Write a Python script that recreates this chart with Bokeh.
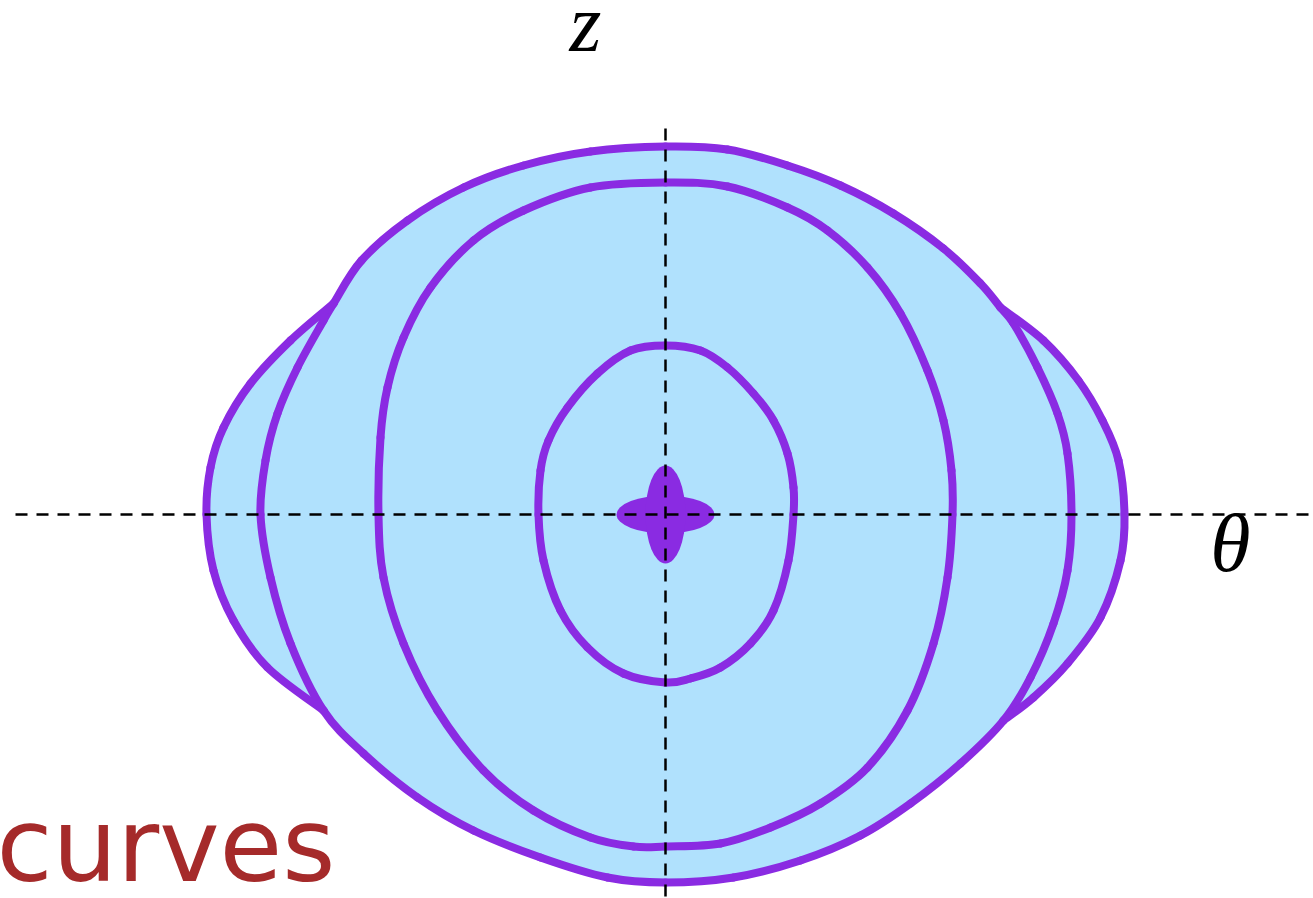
from bokeh.plotting import figure
from bokeh.models import Range1d
from bokeh.core.properties import value
from bokeh.embed import file_html
from bokeh.resources import INLINE

# Curve outlines, as (theta, z) offsets from the origin where the axes cross.
# Tall closed curve (the outermost level); runs clockwise from the top.
tall_theta = [0, 62, 122, 175, 228, 278, 315, 335, 348, 372, 392, 402, 406,
              402, 388, 365, 338, 295, 245, 195, 135, 68, 0, -58, -125, -192,
              -248, -302, -342, -375, -395, -405, -400, -388, -368, -342, -332,
              -304, -258, -202, -142, -75, 0]
tall_z = [368, 365, 349, 329, 301, 266, 231, 207, 191, 147, 101, 61, 0, -56,
          -109, -163, -206, -249, -289, -321, -346, -363, -368, -363, -343,
          -316, -283, -239, -196, -129, -63, 0, 54, 101, 147, 194, 211, 254,
          294, 327, 349, 363, 368]

# Side lobes that bulge out beyond the tall curve (both run top to bottom).
lobe_r_theta = [335, 378, 413, 437, 453, 459, 455, 435, 402, 368, 338]
lobe_r_z = [207, 174, 134, 94, 54, 0, -46, -103, -149, -183, -206]
lobe_l_theta = [-332, -375, -415, -442, -455, -459, -452, -432, -398, -342]
lobe_l_z = [211, 174, 131, 87, 47, 0, -56, -106, -153, -196]

# Second level.
mid_theta = [0, 62, 122, 162, 202, 235, 262, 278, 286, 287, 282, 268, 242,
             202, 155, 105, 55, 0, -32, -75, -132, -182, -228, -262, -282,
             -287, -285, -278, -262, -235, -192, -142, -75, 0]
mid_z = [332, 328, 307, 284, 247, 201, 144, 94, 44, 0, -63, -129, -196,
         -253, -289, -313, -329, -332, -332, -323, -296, -256, -196, -129,
         -63, 0, 77, 127, 177, 227, 274, 304, 327, 332]

# Third level.
inner_theta = [0, 35, 62, 88, 108, 122, 128, 128, 123, 108, 85, 55, 25, 0,
               -42, -78, -105, -122, -127, -125, -117, -98, -68, -35, 0]
inner_z = [169, 164, 147, 121, 94, 61, 27, 0, -46, -96, -129, -153, -164,
           -168, -159, -133, -96, -46, 0, 44, 74, 107, 141, 164, 169]

# Innermost level: two crossed ovals at the origin.
core_theta = [0, 0]
core_z = [0, 0]
core_w = [98, 40]
core_h = [38, 98]

# Axis guides.
h_axis_theta = [-650, 648]
h_axis_z = [0, 0]
v_axis_theta = [0, 0]
v_axis_z = [386, -384]

# Filled region: outer boundary of the union of the tall curve and the lobes,
# walked clockwise (top arc, right lobe, bottom arc, left lobe upwards).
top_end = tall_theta.index(lobe_r_theta[0])
bottom_start = tall_theta.index(lobe_r_theta[-1])
bottom_end = tall_theta.index(lobe_l_theta[-1])
top_start = tall_theta.index(lobe_l_theta[0])
fill_theta = (tall_theta[:top_end] + lobe_r_theta
              + tall_theta[bottom_start + 1:bottom_end] + lobe_l_theta[::-1]
              + tall_theta[top_start + 1:])
fill_z = (tall_z[:top_end] + lobe_r_z
          + tall_z[bottom_start + 1:bottom_end] + lobe_l_z[::-1]
          + tall_z[top_start + 1:])


def smooth_segments(xs, ys, closed):
    """Cubic Bezier pieces (Catmull-Rom tangents) through the given knots."""
    n = len(xs)
    if closed:
        px, py = xs[:-1], ys[:-1]
        m = len(px)
        get = lambda i: (px[i % m], py[i % m])
        count = m
    else:
        get = lambda i: (xs[min(max(i, 0), n - 1)], ys[min(max(i, 0), n - 1)])
        count = n - 1
    seg = {k: [] for k in ("x0", "y0", "x1", "y1", "cx0", "cy0", "cx1", "cy1")}
    for i in range(count):
        (ax, ay), (bx, by) = get(i - 1), get(i)
        (cx, cy), (dx, dy) = get(i + 1), get(i + 2)
        seg["x0"].append(bx)
        seg["y0"].append(by)
        seg["x1"].append(cx)
        seg["y1"].append(cy)
        seg["cx0"].append(bx + (cx - ax) / 6)
        seg["cy0"].append(by + (cy - ay) / 6)
        seg["cx1"].append(cx - (dx - bx) / 6)
        seg["cy1"].append(cy - (dy - by) / 6)
    return seg


W, H = 1313, 898
p = figure(width=W, height=H, output_backend="svg", toolbar_location=None,
           x_range=Range1d(-665, W - 665), y_range=Range1d(514 - H, 514),
           min_border=0, outline_line_color=None)
p.axis.visible = False
p.grid.visible = False
p.background_fill_color = "white"
p.border_fill_color = "white"

FILL = "#B0E1FD"
PURPLE = "#8A2BE2"
LW = 8

p.patch(fill_theta, fill_z, fill_color=FILL, line_color=None)

for xs, ys, closed in [(tall_theta, tall_z, True),
                       (lobe_r_theta, lobe_r_z, False),
                       (lobe_l_theta, lobe_l_z, False),
                       (mid_theta, mid_z, True),
                       (inner_theta, inner_z, True)]:
    p.bezier(source=smooth_segments(xs, ys, closed), x0="x0", y0="y0",
             x1="x1", y1="y1", cx0="cx0", cy0="cy0", cx1="cx1", cy1="cy1",
             line_color=PURPLE, line_width=LW, line_cap="round")

p.ellipse(x=core_theta, y=core_z, width=core_w, height=core_h,
          fill_color=PURPLE, line_color=None)

p.line(h_axis_theta, h_axis_z, line_color="black", line_width=2.5, line_dash="12 9")
p.line(v_axis_theta, v_axis_z, line_color="black", line_width=2.5, line_dash="12 9")

p.text(x=[-80], y=[491], text=["z"], text_font=value("Liberation Serif"),
       text_font_style="italic", text_font_size="82px", text_align="center",
       text_baseline="alphabetic", text_color="black")
p.text(x=[565], y=[-29], text=["θ"], text_font=value("Liberation Serif"),
       text_font_style="italic", text_font_size="82px", text_align="center",
       text_baseline="alphabetic", text_color="black")
p.text(x=[-669], y=[-331], text=["curves"], text_font=value("DejaVu Sans"),
       text_font_size="102px", text_align="left", text_baseline="alphabetic",
       text_color="#A52A2A")

open("out.html", "w").write(file_html(p, INLINE))
